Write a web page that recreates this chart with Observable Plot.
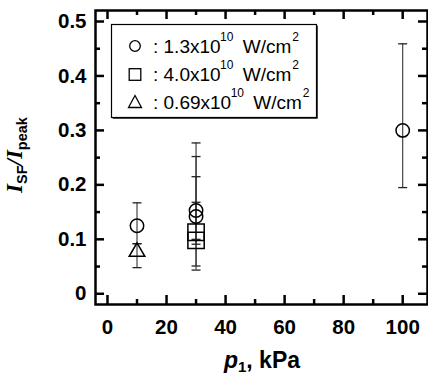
<!DOCTYPE html>
<html>
<head>
<meta charset="utf-8">
<script src="https://cdn.jsdelivr.net/npm/d3@7"></script>
<script src="https://cdn.jsdelivr.net/npm/@observablehq/plot@0.6"></script>
<style>
  html, body { margin: 0; padding: 0; background: #fff; }
  #wrap { position: relative; width: 428px; height: 376px; overflow: hidden; font-family: "Liberation Sans", Arial, sans-serif; }
  #overlay { position: absolute; left: 0; top: 0; pointer-events: none; }
</style>
</head>
<body>
<div id="wrap"></div>
<script>
// ---- data ----
const pressure = [10, 10, 30, 30, 30, 30, 100];            // p1, kPa
const ratio    = [0.125, 0.077, 0.153, 0.142, 0.113, 0.098, 0.300]; // I_SF / I_peak
const errLow   = [0.092, 0.048, 0.0435, 0.051, 0.100, 0.091, 0.195];
const errHigh  = [0.167, 0.092, 0.277, 0.252, 0.215, 0.168, 0.459];
const intensity = ["1.3", "0.69", "1.3", "1.3", "4.0", "4.0", "1.3"]; // x10^10 W/cm^2
const legendLabels = ["1.3", "4.0", "0.69"];
const xTickLabels = [0, 20, 40, 60, 80, 100];
const xMinorTicks = [10, 30, 50, 70, 90];
const yTickLabels = [0, 0.1, 0.2, 0.3, 0.4, 0.5];
const yMinorTicks = [0.05, 0.15, 0.25, 0.35, 0.45];

const rows = pressure.map((p, i) => ({p, r: ratio[i], lo: errLow[i], hi: errHigh[i], s: intensity[i]}));

const W = 428, H = 376;
const mTop = 10, mLeft = 95, mRight = 1, mBottom = 72;
const innerW = W - mLeft - mRight, innerH = H - mTop - mBottom;
const major = 9, minor = 5;

const cap = { draw(ctx, size) { const w = Math.sqrt(size / Math.PI); ctx.moveTo(-w, 0); ctx.lineTo(w, 0); } };

const plot = Plot.plot({
  width: W, height: H,
  marginTop: mTop, marginLeft: mLeft, marginRight: mRight, marginBottom: mBottom,
  style: { fontFamily: "Liberation Sans, Arial, sans-serif", color: "#000", background: "#fff" },
  x: { domain: [-4.06, 108.4] },
  y: { domain: [-0.0197, 0.5202] },
  marks: [
    // error bars
    Plot.ruleX(rows, { x: "p", y1: "lo", y2: "hi", stroke: "#333", strokeWidth: 1.1 }),
    Plot.dot(rows, { x: "p", y: "lo", symbol: cap, r: 4.5, stroke: "#222", strokeWidth: 1.3 }),
    Plot.dot(rows, { x: "p", y: "hi", symbol: cap, r: 4.5, stroke: "#222", strokeWidth: 1.3 }),
    // markers
    Plot.dot(rows.filter(d => d.s === "1.3"), { x: "p", y: "r", symbol: "circle", r: 6.7, stroke: "#000", strokeWidth: 1.5, fill: "none" }),
    Plot.dot(rows.filter(d => d.s === "4.0"), { x: "p", y: "r", symbol: "square", r: 9.2, stroke: "#000", strokeWidth: 1.5, fill: "none" }),
    Plot.dot(rows.filter(d => d.s === "0.69"), { x: "p", y: "r", symbol: "triangle", r: 5.8, stroke: "#000", strokeWidth: 1.5, fill: "none" }),
    // inward ticks
    Plot.tickX(xTickLabels, { x: d => d, insetTop: innerH - major, stroke: "#000", strokeWidth: 2.5 }),
    Plot.tickX(xMinorTicks, { x: d => d, insetTop: innerH - minor, stroke: "#000", strokeWidth: 2.5 }),
    Plot.tickX(xTickLabels, { x: d => d, insetBottom: innerH - major, stroke: "#000", strokeWidth: 2.5 }),
    Plot.tickX(xMinorTicks, { x: d => d, insetBottom: innerH - minor, stroke: "#000", strokeWidth: 2.5 }),
    Plot.tickY(yTickLabels, { y: d => d, insetRight: innerW - major, stroke: "#000", strokeWidth: 2.5 }),
    Plot.tickY(yMinorTicks, { y: d => d, insetRight: innerW - minor, stroke: "#000", strokeWidth: 2.5 }),
    Plot.tickY(yTickLabels, { y: d => d, insetLeft: innerW - major, stroke: "#000", strokeWidth: 2.5 }),
    Plot.tickY(yMinorTicks, { y: d => d, insetLeft: innerW - minor, stroke: "#000", strokeWidth: 2.5 }),
    // axis labels
    Plot.axisX({ ticks: xTickLabels, tickSize: 0, tickPadding: 15, fontSize: 20.5, fontWeight: "bold", label: null }),
    Plot.axisY({ ticks: yTickLabels, tickSize: 0, tickPadding: 9, fontSize: 20.5, fontWeight: "bold", label: null, tickFormat: d => d === 0 ? "0" : d3.format(".1f")(d) }),
    Plot.frame({ stroke: "#000", strokeWidth: 2.5 })
  ]
});

const wrap = document.getElementById("wrap");
wrap.appendChild(plot);

// legend and axis titles (overlay)
const sym = { "1.3": "circle", "4.0": "square", "0.69": "triangle" };
const ns = "http://www.w3.org/2000/svg";
const ov = document.createElementNS(ns, "svg");
ov.setAttribute("id", "overlay");
ov.setAttribute("width", W); ov.setAttribute("height", H);
const lx = 111.5, ly = 24.5, lw = 205, lh = 93;
let html = `<rect x="${lx+1.2}" y="${ly+1.2}" width="${lw}" height="${lh}" fill="#000"/>` +
  `<rect x="${lx}" y="${ly}" width="${lw}" height="${lh}" fill="#fff" stroke="#000" stroke-width="1.2"/>`;
const rowY = [52.5, 81, 108.5];
legendLabels.forEach((lab, i) => {
  const cy = rowY[i] - 6.5;
  let s;
  if (sym[lab] === "circle") s = `<circle cx="135" cy="${cy}" r="5.3" fill="none" stroke="#000" stroke-width="1.3"/>`;
  else if (sym[lab] === "square") s = `<rect x="129.2" y="${cy-5.8}" width="11.6" height="11.6" fill="none" stroke="#000" stroke-width="1.3"/>`;
  else s = `<path d="M135,${cy-6.5} L141.5,${cy+5.5} L128.5,${cy+5.5} Z" fill="none" stroke="#000" stroke-width="1.3"/>`;
  html += s +
    `<text x="153" y="${rowY[i]}" font-family="Liberation Sans, Arial, sans-serif" font-size="19" fill="#000">: ${lab}x10<tspan font-size="12" dy="-12" dx="-0.5">10</tspan><tspan dy="12" dx="4" font-size="19"> W/cm</tspan><tspan font-size="12" dy="-12" dx="1">2</tspan></text>`;
});
// y title
html += `<text transform="translate(22,155) rotate(-90)" text-anchor="middle" font-weight="bold" fill="#000">` +
  `<tspan font-family="Liberation Serif, Times New Roman, serif" font-style="italic" font-size="23">I</tspan>` +
  `<tspan font-family="Liberation Sans, Arial, sans-serif" font-size="14.5" dy="5">SF</tspan>` +
  `<tspan font-family="Liberation Serif, Times New Roman, serif" font-style="italic" font-size="23" dy="-5">/</tspan>` +
  `<tspan font-family="Liberation Serif, Times New Roman, serif" font-style="italic" font-size="23">I</tspan>` +
  `<tspan font-family="Liberation Sans, Arial, sans-serif" font-size="14.5" dy="5">peak</tspan></text>`;
// x title
html += `<text x="262" y="368" text-anchor="middle" font-weight="bold" font-family="Liberation Sans, Arial, sans-serif" font-size="23" fill="#000">` +
  `<tspan font-style="italic">p</tspan><tspan font-size="15" dy="4">1</tspan><tspan dy="-4">, kPa</tspan></text>`;
ov.innerHTML = html;
wrap.appendChild(ov);
</script>
</body>
</html>
